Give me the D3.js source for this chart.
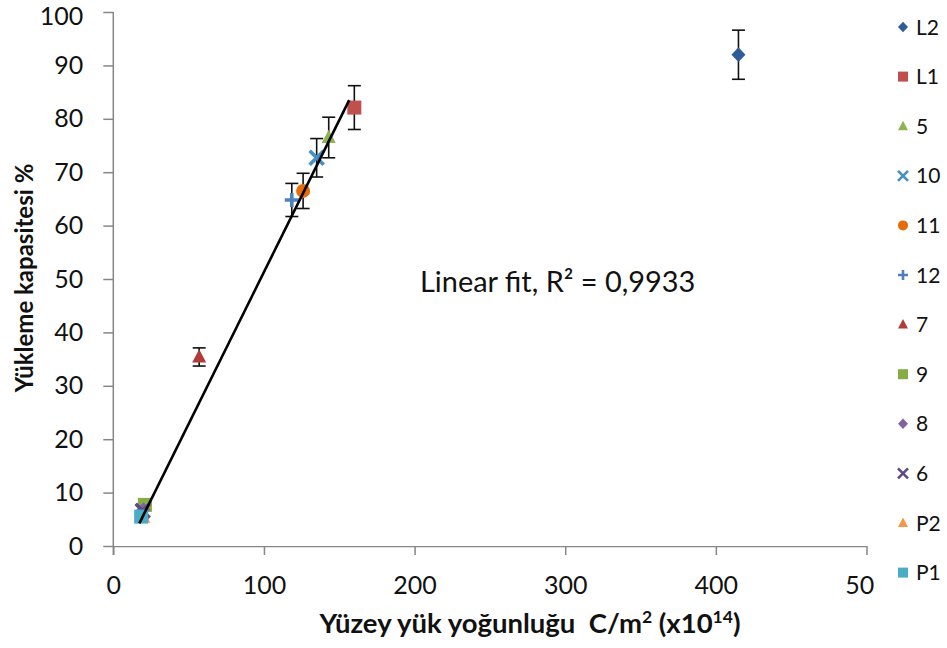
<!DOCTYPE html>
<html>
<head>
<meta charset="utf-8">
<script src="https://cdn.jsdelivr.net/npm/d3@7"></script>
<style>
  html, body { margin: 0; padding: 0; background: #fff; }
  svg { display: block; font-family: Lato, "Open Sans", sans-serif; }
</style>
</head>
<body>
<svg id="chart" width="947" height="648"></svg>
<script>
// Samples (series names as shown in the legend)
const categories = ["L2", "L1", "5", "10", "11", "12", "7", "9", "8", "6", "P2", "P1"];
// Surface charge density, C/m² (x10^14)
const xValues = [415, 160, 143, 135, 126, 118.5, 57, 21, 20, 19.5, 20, 18.5];
// Loading capacity, %
const yValues = [92, 82.1, 76.5, 72.7, 66.5, 64.8, 35.4, 7.7, 6.8, 6.6, 5.4, 5.5];
// Error (±) on loading capacity
const yErrors = [4.6, 4.1, 3.8, 3.6, 3.3, 3.1, 1.7, 0, 0, 0, 0, 0];
const shapes = ["diamond", "square", "triangle", "x", "circle", "plus", "triangle", "square", "diamond", "x", "triangle", "square"];
const colors = ["#2E5C99", "#C0504D", "#8DB452", "#4690C6", "#E46C0A", "#4F81BD", "#B23A37", "#86AD45", "#8064A2", "#5F4A87", "#F79646", "#4BACC6"];

// Linear trend line end points
const fitX = [17.3, 156.6];
const fitY = [4.25, 83.5];
const fitLabel = "Linear fit, R² = 0,9933";

// Axis ticks
const xTicks = [0, 100, 200, 300, 400, 500];
const yTicks = [0, 10, 20, 30, 40, 50, 60, 70, 80, 90, 100];

const svg = d3.select("#chart");
const x = d3.scaleLinear().domain([0, 500]).range([113.3, 866.5]);
const y = d3.scaleLinear().domain([0, 100]).range([546, 12]);

const axisColor = "#868686";

// X axis
const gx = svg.append("g").attr("transform", `translate(0,${y(0)})`)
  .call(d3.axisBottom(x).tickValues(xTicks).tickSizeOuter(0).tickSizeInner(9).tickPadding(21));
// Y axis
const gy = svg.append("g").attr("transform", `translate(${x(0)},0)`)
  .call(d3.axisLeft(y).tickValues(yTicks).tickSizeOuter(0).tickSizeInner(10).tickPadding(20));

[gx, gy].forEach(g => {
  g.select(".domain").attr("stroke", axisColor).attr("stroke-width", 1.5);
  g.selectAll(".tick line").attr("stroke", axisColor).attr("stroke-width", 1.5);
  g.selectAll(".tick text").attr("fill", "#111").style("font-size", "25px")
    .style("font-family", "Lato, 'Open Sans', sans-serif");
});
// y axis line runs slightly below the x axis
gy.select(".domain").attr("d", `M0,${y(100)}V${y(0) + 9}`);
// keep the top label inside the frame
gy.selectAll(".tick text").filter(d => d === 100).attr("dy", "0.36em").attr("y", 3);

// last x label is cut at the plot's right boundary
svg.append("clipPath").attr("id", "xlabclip")
  .append("rect").attr("x", 0).attr("y", 0).attr("width", 874).attr("height", 648);
gx.attr("clip-path", "url(#xlabclip)");

// Error bars
const eb = svg.append("g").attr("stroke", "#111").attr("stroke-width", 1.6);
categories.forEach((c, i) => {
  if (!yErrors[i]) return;
  const cx = x(xValues[i]);
  const y1 = y(yValues[i] + yErrors[i]);
  const y2 = y(yValues[i] - yErrors[i]);
  eb.append("line").attr("x1", cx).attr("x2", cx).attr("y1", y1).attr("y2", y2);
  eb.append("line").attr("x1", cx - 6.5).attr("x2", cx + 6.5).attr("y1", y1).attr("y2", y1);
  eb.append("line").attr("x1", cx - 6.5).attr("x2", cx + 6.5).attr("y1", y2).attr("y2", y2);
});

// Marker drawing helper
function marker(g, shape, color, cx, cy, s) {
  const h = s / 2;
  if (shape === "x") {
    g.append("path").attr("d", `M${cx - h},${cy - h}L${cx + h},${cy + h}M${cx - h},${cy + h}L${cx + h},${cy - h}`)
      .attr("stroke", color).attr("stroke-width", s * 0.26).attr("fill", "none");
  } else if (shape === "plus") {
    g.append("path").attr("d", `M${cx - h},${cy}L${cx + h},${cy}M${cx},${cy - h}L${cx},${cy + h}`)
      .attr("stroke", color).attr("stroke-width", s * 0.26).attr("fill", "none");
  } else if (shape === "circle") {
    g.append("circle").attr("cx", cx).attr("cy", cy).attr("r", h).attr("fill", color);
  } else if (shape === "square") {
    g.append("rect").attr("x", cx - h).attr("y", cy - h).attr("width", s).attr("height", s).attr("fill", color);
  } else if (shape === "diamond") {
    g.append("path").attr("d", `M${cx},${cy - h * 1.05}L${cx + h},${cy}L${cx},${cy + h * 1.05}L${cx - h},${cy}Z`).attr("fill", color);
  } else if (shape === "triangle") {
    g.append("path").attr("d", `M${cx},${cy - h * 1.1}L${cx + h},${cy + h * 0.8}L${cx - h},${cy + h * 0.8}Z`).attr("fill", color);
  }
}

// Data points
const pts = svg.append("g");
categories.forEach((c, i) => {
  marker(pts, shapes[i], colors[i], x(xValues[i]), y(yValues[i]), 14);
});

// Trend line
svg.append("path")
  .datum(fitX.map((v, i) => [v, fitY[i]]))
  .attr("d", d3.line().x(d => x(d[0])).y(d => y(d[1])))
  .attr("stroke", "#000").attr("stroke-width", 2.6).attr("fill", "none");

// Trend line annotation
svg.append("text").attr("x", 420).attr("y", 292)
  .style("font-size", "28.9px").attr("fill", "#111").text(fitLabel);

// Axis titles
svg.append("text")
  .attr("transform", "translate(33,278) rotate(-90)")
  .attr("text-anchor", "middle").style("font-size", "24px").style("font-weight", "bold").attr("fill", "#111")
  .text("Yükleme kapasitesi %");

const xt = svg.append("text").attr("x", 530).attr("y", 633).attr("text-anchor", "middle")
  .style("font-size", "27.5px").style("font-weight", "bold").attr("fill", "#111");
xt.append("tspan").text("Yüzey yük yoğunluğu\u00a0 C/m");
xt.append("tspan").attr("dy", -10).style("font-size", "17.5px").text("2");
xt.append("tspan").attr("dy", 10).text(" (x10");
xt.append("tspan").attr("dy", -10).style("font-size", "17.5px").text("14");
xt.append("tspan").attr("dy", 10).text(")");

// Legend
const lg = svg.append("g");
categories.forEach((c, i) => {
  const ly = 27 + i * 49.6;
  marker(lg, shapes[i], colors[i], 903, ly, 10);
  lg.append("text").attr("x", 916).attr("y", ly).attr("dy", "0.36em")
    .style("font-size", "21px").attr("fill", "#111").text(c);
});
</script>
</body>
</html>
